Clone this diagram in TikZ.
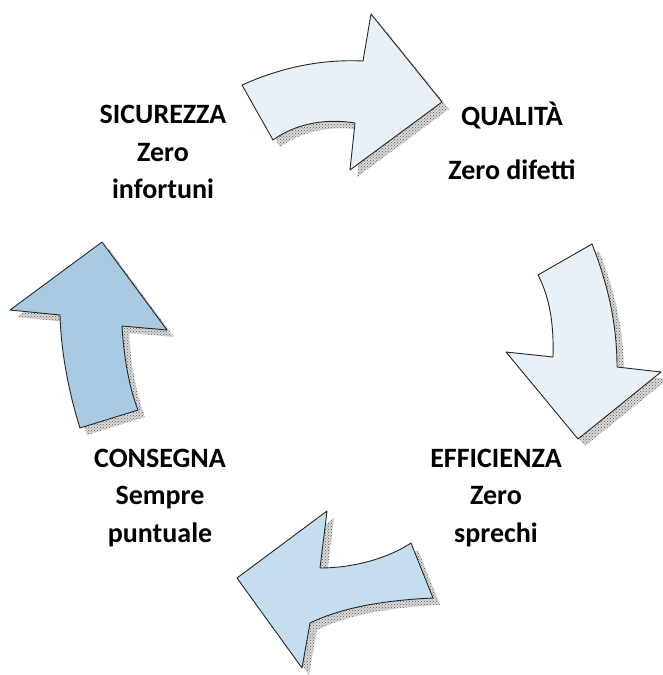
\documentclass[tikz,border=0pt]{standalone}
\usepackage{fontspec}
\setmainfont{Carlito}
\usetikzlibrary{patterns}

\definecolor{palearrow}{RGB}{233,241,248}
\definecolor{midarrow}{RGB}{196,222,240}
\definecolor{deeparrow}{RGB}{168,202,227}

% arrow outlines, in pixels of the page
\newcommand{\arrowtop}{(242,85) .. controls (280,68) and (320,59) .. (363,61) -- (371,14) -- (442,102) -- (350,170) -- (355,123) .. controls (325,118) and (295,124) .. (273,140) -- cycle}
\newcommand{\arrowright}{(538,275) -- (592,244) .. controls (607,282) and (617,322) .. (617,367) -- (661,372) -- (578,439) -- (506,352) -- (553,357) .. controls (554,322) and (549,296) .. cycle}
\newcommand{\arrowbottom}{(327,511) -- (320,568) .. controls (350,568) and (385,560) .. (411,543) -- (433,598) .. controls (390,600) and (345,606) .. (310,623) -- (302,668) -- (237,578) -- cycle}
\newcommand{\arrowleft}{(102,242) -- (167,330) -- (122,326) .. controls (124,360) and (130,390) .. (138,410) -- (80,428) .. controls (68,390) and (61,350) .. (60,315) -- (10,310) -- cycle}

\tikzset{
  shade/.style={preaction={fill=gray!30}, pattern=crosshatch dots, pattern color=black!65},
  body/.style={draw=black!85, line width=0.9pt, line join=round},
  label/.style={font=\fontsize{28}{37.5}\selectfont\bfseries, align=center, inner sep=0pt}
}

\begin{document}
\begin{tikzpicture}[x=1pt,y=-1pt]
\useasboundingbox (0,0) rectangle (662,675);
% shadows
\path [shade, shift={(7,7)}] \arrowtop;
\path [shade, shift={(7,7)}] \arrowright;
\path [shade, shift={(7,7)}] \arrowbottom;
\path [shade, shift={(7,7)}] \arrowleft;
% arrows
\draw [body, fill=palearrow] \arrowtop;
\draw [body, fill=palearrow] \arrowright;
\draw [body, fill=midarrow] \arrowbottom;
\draw [body, fill=deeparrow] \arrowleft;
% labels
\node [label] (sicurezza) at (163,152) {SICUREZZA\\Zero\\infortuni};
\node [label] (qualita) at (512,115) {QUALITÀ};
\node [label] (difetti) at (512,170) {Zero difetti};
\node [label] (efficienza) at (496,498) {EFFICIENZA\\Zero\\sprechi};
\node [label] (consegna) at (160,498) {CONSEGNA\\Sempre\\puntuale};
\end{tikzpicture}
\end{document}
